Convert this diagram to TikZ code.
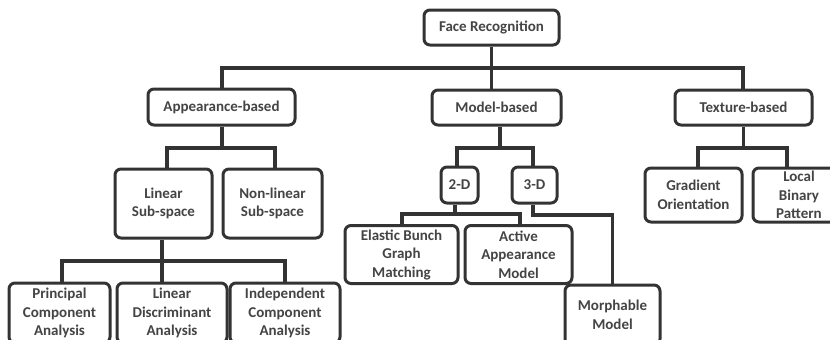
\documentclass[tikz,border=0pt]{standalone}
\usepackage{fontspec}
\setmainfont{Carlito}
\definecolor{linec}{HTML}{333333}
\definecolor{textc}{HTML}{444444}
\begin{document}
\begin{tikzpicture}[x=1pt,y=-1pt,
  box/.style={draw=linec, line width=3pt, rounded corners=6pt, fill=white,
    align=center, inner sep=0pt, text=textc,
    font=\fontsize{15}{18.5}\selectfont\bfseries},
  conn/.style={draw=linec, line width=3.2pt}]
\useasboundingbox (0,0) rectangle (830,340);
\clip (0,0) rectangle (830,340);
% top levels
\node[box, minimum width=135pt, minimum height=35pt] (fr) at (491.5,27.5) {Face Recognition};
\node[box, minimum width=147pt, minimum height=36pt] (app) at (221.5,107) {Appearance-based};
\node[box, minimum width=129pt, minimum height=35pt] (mod) at (496.5,107.5) {Model-based};
\node[box, minimum width=137pt, minimum height=35pt] (tex) at (743.5,107.5) {Texture-based};
% appearance subtree
\node[box, minimum width=97pt, minimum height=69pt] (lin) at (163.5,203.5) {Linear\\Sub-space};
\node[box, minimum width=99pt, minimum height=69pt] (nonlin) at (272.5,203.5) {Non-linear\\Sub-space};
\node[box, minimum width=101pt, minimum height=60pt] (pca) at (59.5,313) {Principal\\Component\\Analysis};
\node[box, minimum width=110pt, minimum height=60pt] (lda) at (172,313) {Linear\\Discriminant\\Analysis};
\node[box, minimum width=110pt, minimum height=60pt] (ica) at (285,313) {Independent\\Component\\Analysis};
% model subtree
\node[box, minimum width=37pt, minimum height=36pt] (d2) at (459.5,185) {2-D};
\node[box, minimum width=45pt, minimum height=36pt] (d3) at (534.5,185) {3-D};
\node[box, minimum width=113pt, minimum height=58pt] (ebgm) at (401.5,254.5) {Elastic Bunch\\Graph\\Matching};
\node[box, minimum width=107pt, minimum height=58pt] (aam) at (518.5,254.5) {Active\\Appearance\\Model};
\node[box, minimum width=95pt, minimum height=60pt] (morph) at (612.5,315) {Morphable\\Model};
% texture subtree
\node[box, minimum width=97pt, minimum height=54pt] (grad) at (693.5,195) {Gradient\\Orientation};
\node[box, minimum width=92pt, minimum height=54pt] (lbp) at (799,195) {Local\\Binary\\Pattern};
% bus coordinates
\coordinate (b1) at (0,68);
\coordinate (b2) at (0,148);
\coordinate (b3) at (0,261);
\coordinate (b4) at (0,214);
% connectors
\draw[conn] (fr.south) -- (fr.south |- mod.north);
\draw[conn] ([xshift=0.5pt]app.north) |- (b1 -| fr.south) -| ([xshift=-0.5pt]tex.north);
\draw[conn] ([xshift=0.5pt]app.south) -- ([xshift=0.5pt]app.south |- b2);
\draw[conn] ([xshift=3.5pt]lin.north) |- ([xshift=0.5pt]b2 -| app.south) -| ([xshift=2.5pt]nonlin.north);
\draw[conn] ([xshift=-1.5pt]lin.south) -- ([xshift=-1.5pt]lin.south |- lda.north);
\draw[conn] ([xshift=2.5pt]pca.north) |- (b3 -| lin.south) -| (ica.north);
\draw[conn] ([xshift=3.5pt]mod.south) -- ([xshift=3.5pt]mod.south |- b2);
\draw[conn] ([xshift=-2.5pt]d2.north) |- ([xshift=3.5pt]b2 -| mod.south) -| ([xshift=-1.5pt]d3.north);
\draw[conn] ([xshift=-4.5pt]d2.south) -- ([xshift=-4.5pt]d2.south |- b4);
\draw[conn] ([xshift=0.5pt]ebgm.north) |- ([xshift=-4.5pt]b4 -| d2.south) -| ([xshift=1.5pt]aam.north);
\draw[conn] ([xshift=-1.5pt]d3.south) |- ([yshift=-1pt]b4 -| morph.north) -- (morph.north);
\draw[conn] (tex.south) -- (tex.south |- b2);
\draw[conn] ([xshift=4.5pt]grad.north) |- (b2 -| tex.south) -| ([xshift=-12pt]lbp.north);
\end{tikzpicture}
\end{document}
